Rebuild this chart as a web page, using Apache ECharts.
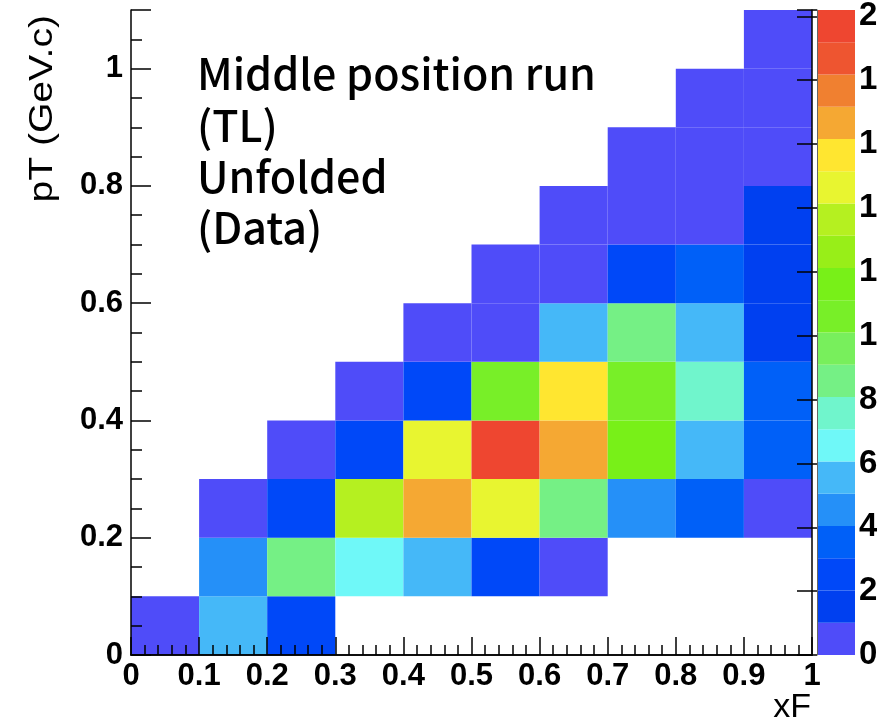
<!DOCTYPE html>
<html><head><meta charset="utf-8">
<script src="https://cdn.jsdelivr.net/npm/echarts@6/dist/echarts.min.js"></script>
<style>html,body{margin:0;padding:0;background:#fff}#c{width:877px;height:723px}</style>
</head><body><div id="c"></div>
<script>
// x bins (xF) and y bins (pT) lower edges, bin width 0.1
const xBinLow = [0, 0.1, 0.2, 0.3, 0.4, 0.5, 0.6, 0.7, 0.8, 0.9];
const yBinLow = [0, 0.1, 0.2, 0.3, 0.4, 0.5, 0.6, 0.7, 0.8, 0.9, 1.0];
const binW = 0.1;
// counts per pT row (row 0 = 0-0.1), columns = xF bins; null = empty
const row00 = [0.5, 5.5, 2.5, null, null, null, null, null, null, null];
const row01 = [null, 4.5, 8.5, 6.5, 5.5, 2.5, 0.5, null, null, null];
const row02 = [null, 0.5, 2.5, 13.5, 16.5, 14.5, 8.5, 4.5, 3.5, 0.5];
const row03 = [null, null, 0.5, 2.5, 14.5, 19.5, 16.5, 11.5, 5.5, 3.5];
const row04 = [null, null, null, 0.5, 2.5, 10.5, 15.5, 10.5, 7.5, 3.5];
const row05 = [null, null, null, null, 0.5, 0.5, 5.5, 8.5, 5.5, 1.5];
const row06 = [null, null, null, null, null, 0.5, 0.5, 2.5, 3.5, 1.5];
const row07 = [null, null, null, null, null, null, 0.5, 0.5, 0.5, 1.5];
const row08 = [null, null, null, null, null, null, null, 0.5, 0.5, 0.5];
const row09 = [null, null, null, null, null, null, null, null, 0.5, 0.5];
const row10 = [null, null, null, null, null, null, null, null, null, 0.5];
const rows = [row00,row01,row02,row03,row04,row05,row06,row07,row08,row09,row10];

// palette (20 contour levels) and colour-scale range
const palette = ['#4f4cf9','#0040f0','#0048f8','#0060f8','#2590f8','#45b8f8','#6ff8f8','#70f5cc',
  '#75f085','#78ef5c','#78ef28','#78f018','#98ee18','#b5f020','#e8f530','#ffe630',
  '#f5a833','#f08030','#ee5530','#ee4630'];
const zMax = 20.2;
const zTicks = [0, 2, 4, 6, 8, 10, 12, 14, 16, 18, 20];
const textLines = ['Middle position run', '(TL)', 'Unfolded', '(Data)'];

const bandW = zMax / palette.length;
function colorFor(v) { return palette[Math.min(palette.length - 1, Math.floor(v / bandW))]; }

const cellData = [];
rows.forEach((r, j) => r.forEach((v, i) => { if (v != null) cellData.push([xBinLow[i], yBinLow[j], v]); }));
const bandData = palette.map((c, k) => [0, k * bandW, (k + 1) * bandW, k]);

const tickFont = { fontFamily: 'Liberation Sans', fontWeight: 'bold', fontSize: 31, color: '#000' };
const lineBlack = { color: '#000', width: 1.5 };

const chart = echarts.init(document.getElementById('c'), null, { renderer: 'canvas' });
chart.setOption({
  animation: false,
  backgroundColor: '#fff',
  grid: [
    { left: 131, top: 10, width: 681, height: 645, outerBoundsMode: 'none', containLabel: false },
    { left: 817, top: 10, width: 38, height: 645, outerBoundsMode: 'none', containLabel: false }
  ],
  xAxis: [
    { gridIndex: 0, type: 'value', min: 0, max: 1, interval: 0.1, position: 'bottom', z: 10,
      axisLine: { show: true, lineStyle: lineBlack },
      axisTick: { show: true, inside: true, length: 18, lineStyle: lineBlack },
      minorTick: { show: true, splitNumber: 5, length: 10, lineStyle: lineBlack },
      splitLine: { show: false },
      axisLabel: Object.assign({ margin: 6, showMaxLabel: true, showMinLabel: true }, tickFont) },
    { gridIndex: 0, type: 'value', min: 0, max: 1, position: 'top', z: 10,
      axisLine: { show: true, lineStyle: lineBlack }, axisTick: { show: false },
      axisLabel: { show: false }, splitLine: { show: false } },
    { gridIndex: 1, type: 'value', min: 0, max: 1, show: false }
  ],
  yAxis: [
    { gridIndex: 0, type: 'value', min: 0, max: 1.1, interval: 0.2, position: 'left', z: 10,
      axisLine: { show: true, lineStyle: lineBlack },
      axisTick: { show: true, inside: true, length: 20, lineStyle: lineBlack },
      splitLine: { show: false },
      axisLabel: Object.assign({ margin: 8,
        formatter: v => (Math.abs(v * 10 - Math.round(v * 5) * 2) < 1e-6 && v <= 1.0001) ? String(Math.round(v * 10) / 10) : '' }, tickFont) },
    { gridIndex: 0, type: 'value', min: 0, max: 1.1, interval: 0.05, position: 'left', z: 10,
      axisLine: { show: false },
      axisTick: { show: true, inside: true, length: 11, lineStyle: lineBlack },
      axisLabel: { show: false }, splitLine: { show: false } },
    { gridIndex: 0, type: 'value', min: 0, max: 1.1, position: 'right', z: 10,
      axisLine: { show: true, lineStyle: lineBlack }, axisTick: { show: false },
      axisLabel: { show: false }, splitLine: { show: false } },
    { gridIndex: 1, type: 'value', min: 0, max: zMax, interval: 2, position: 'right', z: 10,
      axisLine: { show: true, lineStyle: { color: '#666', width: 1 } },
      axisTick: { show: true, inside: true, length: 20, lineStyle: { color: '#000', width: 1.5 } },
      splitLine: { show: false },
      axisLabel: Object.assign({ margin: 4, align: 'left', hideOverlap: false,
        formatter: v => zTicks.indexOf(v) >= 0 ? String(v) : '' }, tickFont, { fontSize: 33 }) }
  ],
  series: [
    { type: 'custom', xAxisIndex: 0, yAxisIndex: 0, z: 2, data: cellData,
      encode: { x: 0, y: 1 },
      renderItem: function (params, api) {
        const x = api.value(0), y = api.value(1), v = api.value(2);
        const p0 = api.coord([x, y + binW]);
        const p1 = api.coord([x + binW, y]);
        return { type: 'rect', shape: { x: p0[0], y: p0[1], width: p1[0] - p0[0], height: p1[1] - p0[1] },
          style: { fill: colorFor(v) } };
      } },
    { type: 'custom', xAxisIndex: 2, yAxisIndex: 3, z: 2, data: bandData,
      encode: { x: 0, y: [1, 2] },
      renderItem: function (params, api) {
        const lo = api.value(1), hi = api.value(2), k = api.value(3);
        const p0 = api.coord([0, hi]);
        const p1 = api.coord([1, lo]);
        return { type: 'rect', shape: { x: p0[0], y: p0[1], width: p1[0] - p0[0], height: p1[1] - p0[1] },
          style: { fill: palette[k] } };
      } }
  ],
  graphic: [
    { type: 'text', x: 197, y: 74, style: { text: textLines[0], fontFamily: 'Noto Sans CJK KR', fontWeight: 500, fontSize: 43, fill: '#000', verticalAlign: 'middle' } },
    { type: 'text', x: 197, y: 126, style: { text: textLines[1], fontFamily: 'Noto Sans CJK KR', fontWeight: 500, fontSize: 43, fill: '#000', verticalAlign: 'middle' } },
    { type: 'text', x: 197, y: 177, style: { text: textLines[2], fontFamily: 'Noto Sans CJK KR', fontWeight: 500, fontSize: 43, fill: '#000', verticalAlign: 'middle' } },
    { type: 'text', x: 197, y: 228, style: { text: textLines[3], fontFamily: 'Noto Sans CJK KR', fontWeight: 500, fontSize: 43, fill: '#000', verticalAlign: 'middle' } },
    { type: 'text', x: 43, y: 15, rotation: Math.PI / 2, scaleX: 1.15,
      style: { text: 'pT (GeV.c)', fontFamily: 'Liberation Sans', fontSize: 34, fill: '#000', align: 'right', verticalAlign: 'middle' } },
    { type: 'text', x: 811, y: 708,
      style: { text: 'xF', fontFamily: 'Liberation Sans', fontSize: 34, fill: '#000', align: 'right', verticalAlign: 'middle' } }
  ]
});
</script>
</body></html>
